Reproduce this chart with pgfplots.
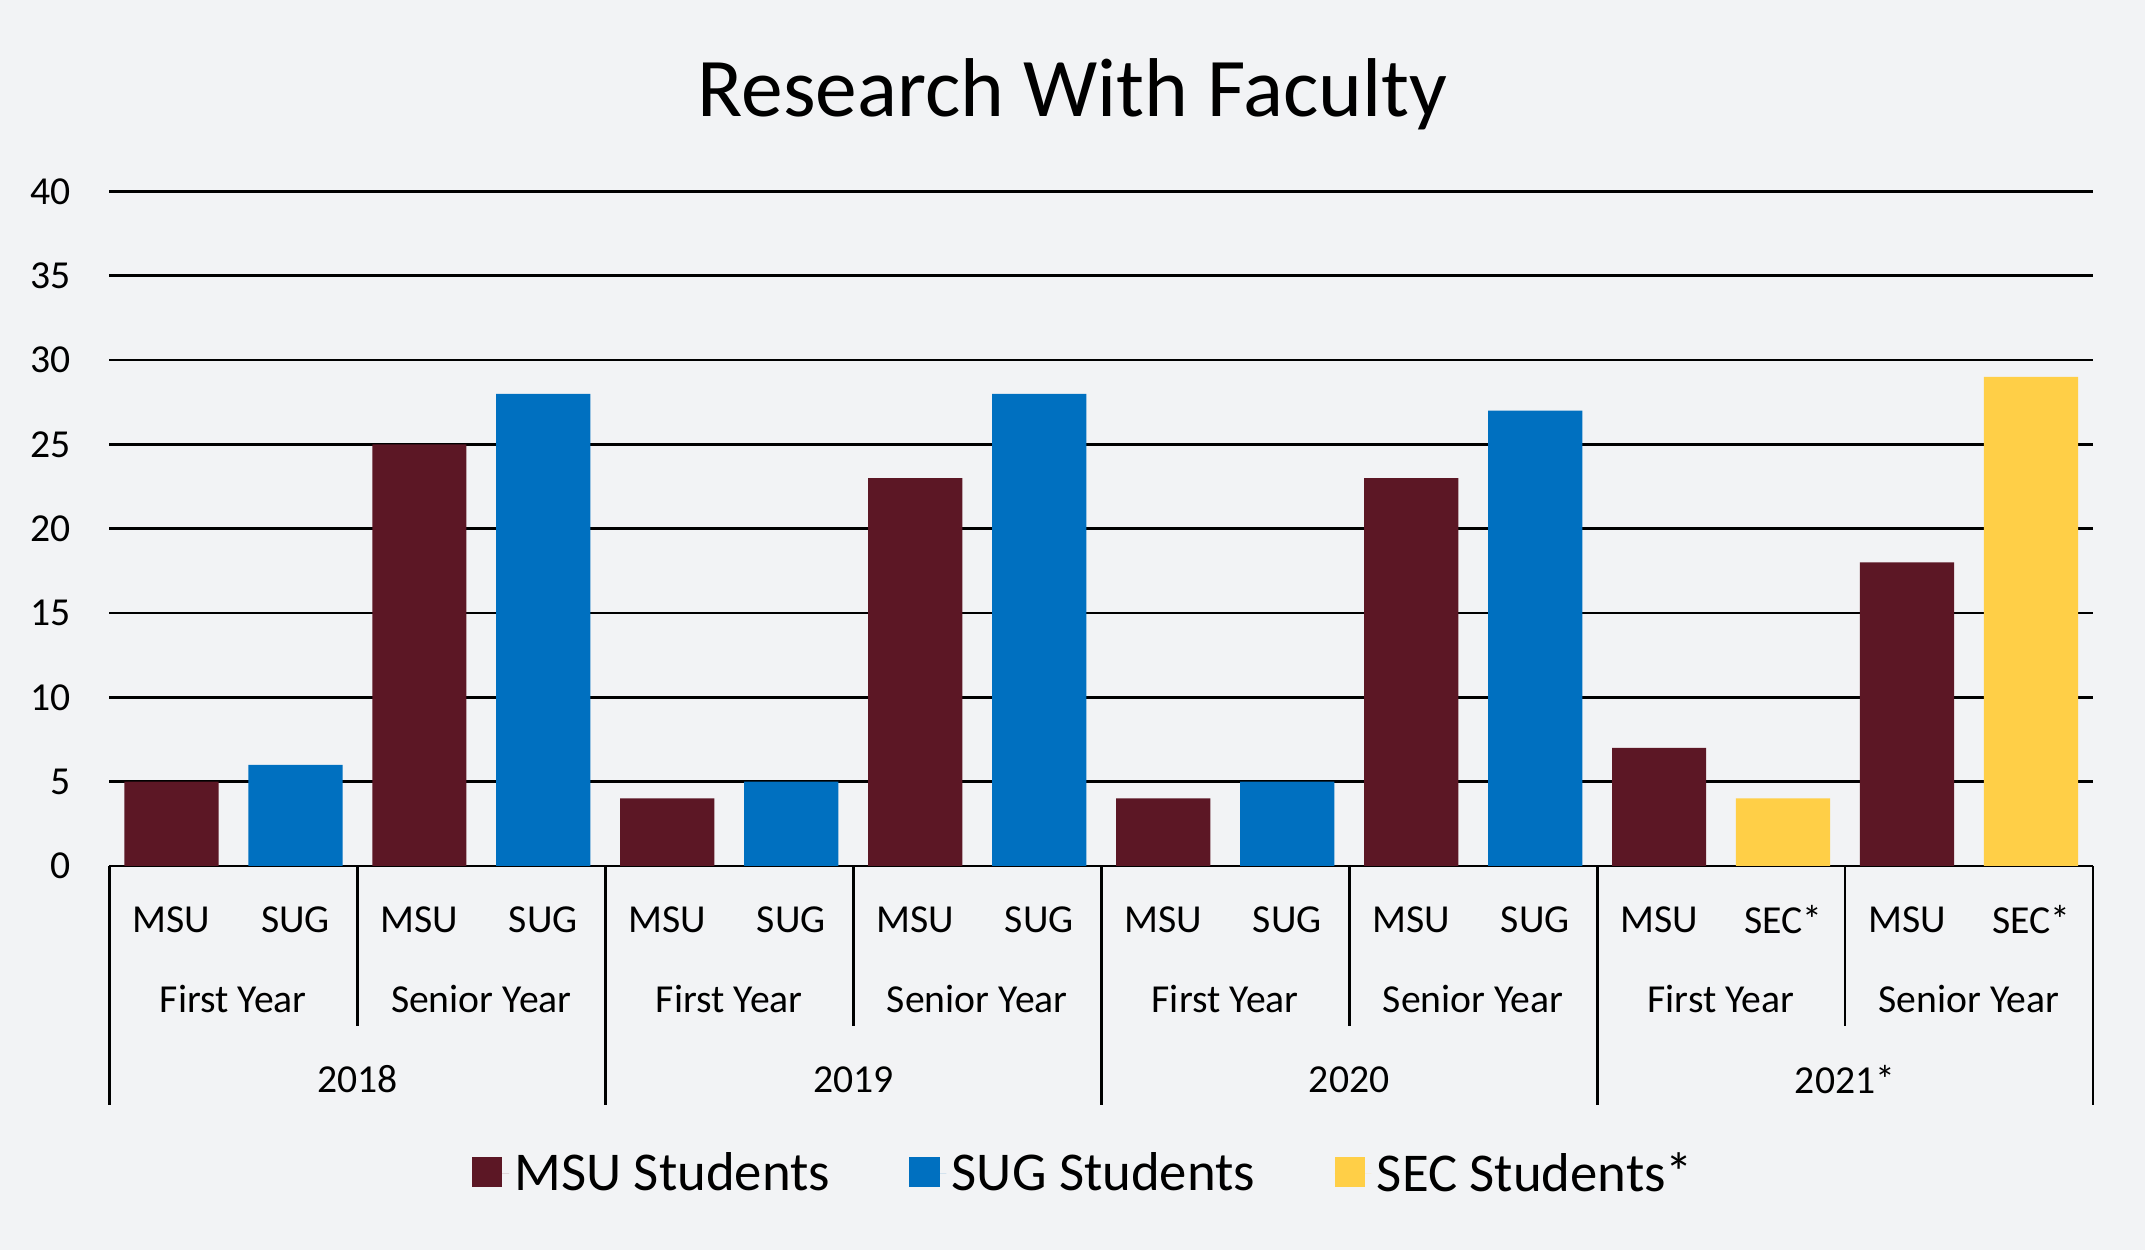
\documentclass[border=0pt]{standalone}
\usepackage{fontspec}
\setmainfont{Carlito}
\usepackage{pgfplots}
\pgfplotsset{compat=1.18}
\definecolor{msu}{HTML}{5C1725}
\definecolor{sug}{HTML}{0070C0}
\definecolor{sec}{HTML}{FFCF47}
\definecolor{bg}{HTML}{F2F3F5}
\newcommand{\lbl}{\fontsize{14.5}{17}\selectfont}
\begin{document}
\begin{tikzpicture}
\fill[bg] (0,0) rectangle (784pt,457pt);
\useasboundingbox (0,0) rectangle (784pt,457pt);
\node[anchor=base, font=\fontsize{30.5}{36}\selectfont] at (392pt,414.5pt) {Research With Faculty};
\begin{axis}[
  at={(40pt,140.5pt)}, anchor=south west, scale only axis,
  width=725pt, height=246.5pt,
  xmin=-0.5, xmax=15.5, ymin=0, ymax=40,
  clip=false,
  axis x line*=bottom, axis y line*=left,
  x axis line style={black, line width=1pt},
  y axis line style={draw=none},
  tick style={draw=none},
  ytick={0,5,...,40},
  ymajorgrids, grid style={black, line width=1pt},
  /pgf/number format/assume math mode=true,
  yticklabel style={font=\lbl, inner sep=0pt, anchor=east, xshift=-14pt},
  xtick={0,...,15},
  xticklabels={MSU,SUG,MSU,SUG,MSU,SUG,MSU,SUG,MSU,SUG,MSU,SUG,MSU,SEC*,MSU,SEC*},
  xticklabel style={font=\lbl, inner sep=0pt, anchor=center, yshift=-19.5pt},
  legend columns=-1,
  legend style={at={(0.492,0)}, anchor=center, yshift=-112.5pt, draw=none, fill=none,
    font=\fontsize{20}{24}\selectfont,
    /tikz/every even column/.append style={column sep=27pt}},
  legend image code/.code={\fill[#1] (0pt,-5pt) rectangle (11pt,6pt); \path (0pt,0pt) -- (13.5pt,0pt);},
]
\addplot[ybar, bar width=0.76, bar shift=0pt, fill=msu, draw=none]
  coordinates {(0,5)(2,25)(4,4)(6,23)(8,4)(10,23)(12,7)(14,18)};
\addlegendentry{MSU Students}
\addplot[ybar, bar width=0.76, bar shift=0pt, fill=sug, draw=none]
  coordinates {(1,6)(3,28)(5,5)(7,28)(9,5)(11,27)};
\addlegendentry{SUG Students}
\addplot[ybar, bar width=0.76, bar shift=0pt, fill=sec, draw=none]
  coordinates {(13,4)(15,29)};
\addlegendentry{SEC Students*}

\draw[line width=1pt] (axis cs:-0.5,0) -- ([yshift=-87.5pt]axis cs:-0.5,0);
\draw[line width=1pt] (axis cs:3.5,0) -- ([yshift=-87.5pt]axis cs:3.5,0);
\draw[line width=1pt] (axis cs:7.5,0) -- ([yshift=-87.5pt]axis cs:7.5,0);
\draw[line width=1pt] (axis cs:11.5,0) -- ([yshift=-87.5pt]axis cs:11.5,0);
\draw[line width=1pt] (axis cs:15.5,0) -- ([yshift=-87.5pt]axis cs:15.5,0);
\draw[line width=1pt] (axis cs:1.5,0) -- ([yshift=-58.5pt]axis cs:1.5,0);
\draw[line width=1pt] (axis cs:5.5,0) -- ([yshift=-58.5pt]axis cs:5.5,0);
\draw[line width=1pt] (axis cs:9.5,0) -- ([yshift=-58.5pt]axis cs:9.5,0);
\draw[line width=1pt] (axis cs:13.5,0) -- ([yshift=-58.5pt]axis cs:13.5,0);

\node[font=\lbl, inner sep=0pt] at ([yshift=-48.5pt]axis cs:0.5,0) {First Year};
\node[font=\lbl, inner sep=0pt] at ([yshift=-48.5pt]axis cs:2.5,0) {Senior Year};
\node[font=\lbl, inner sep=0pt] at ([yshift=-48.5pt]axis cs:4.5,0) {First Year};
\node[font=\lbl, inner sep=0pt] at ([yshift=-48.5pt]axis cs:6.5,0) {Senior Year};
\node[font=\lbl, inner sep=0pt] at ([yshift=-48.5pt]axis cs:8.5,0) {First Year};
\node[font=\lbl, inner sep=0pt] at ([yshift=-48.5pt]axis cs:10.5,0) {Senior Year};
\node[font=\lbl, inner sep=0pt] at ([yshift=-48.5pt]axis cs:12.5,0) {First Year};
\node[font=\lbl, inner sep=0pt] at ([yshift=-48.5pt]axis cs:14.5,0) {Senior Year};

\node[font=\lbl, inner sep=0pt] at ([yshift=-78pt]axis cs:1.5,0) {2018};
\node[font=\lbl, inner sep=0pt] at ([yshift=-78pt]axis cs:5.5,0) {2019};
\node[font=\lbl, inner sep=0pt] at ([yshift=-78pt]axis cs:9.5,0) {2020};
\node[font=\lbl, inner sep=0pt] at ([yshift=-78pt]axis cs:13.5,0) {2021*};
\end{axis}
\end{tikzpicture}
\end{document}
